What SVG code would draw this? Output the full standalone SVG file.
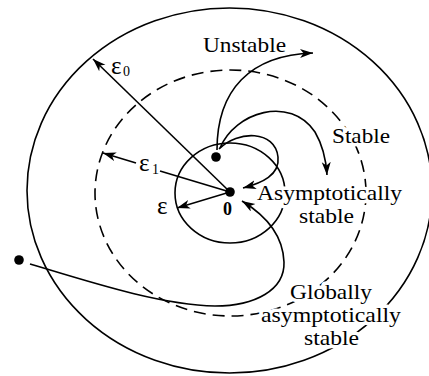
<svg xmlns="http://www.w3.org/2000/svg" width="429" height="376" viewBox="0 0 429 376">
<style>
.c{fill:none;stroke:#000;stroke-width:1.6}
.d{fill:none;stroke:#000;stroke-width:1.6;stroke-dasharray:12 7}
.t{fill:none;stroke:#000;stroke-width:1.6;marker-end:url(#ah)}
.lbl{font-family:"Liberation Serif","Times New Roman",serif;font-size:21px;fill:#000;stroke:#fff;stroke-width:7px;stroke-linejoin:round;paint-order:stroke}
.eps{font-family:"Liberation Serif","Times New Roman",serif;font-size:25px;fill:#000}
.sub{font-family:"Liberation Serif","Times New Roman",serif;font-size:14px;fill:#000}
.dot{fill:#000}
</style>
<defs>
<marker id="ah" markerUnits="userSpaceOnUse" markerWidth="14" markerHeight="10" refX="13" refY="4.5" orient="auto">
<path d="M0,0 L13,4.5 L0,9 L3.5,4.5 Z" fill="#000"/>
</marker>
</defs>
<rect width="429" height="376" fill="#fff"/>
<g id="regions">
<ellipse id="outer" class="c" cx="229.5" cy="190.5" rx="202.5" ry="182.5"/>
<ellipse id="dashed" class="d" cx="230.5" cy="193" rx="135.5" ry="123"/>
<ellipse id="inner" class="c" cx="230" cy="193" rx="55" ry="50"/>
</g>
<g id="connectors">
<line class="t" x1="230" y1="192" x2="93" y2="59"/>
<line class="t" x1="136" y1="163" x2="103" y2="153"/>
<line class="c" x1="160" y1="171" x2="230" y2="192"/>
<line class="t" x1="230" y1="192" x2="177" y2="208"/>
<path class="t" d="M217,150 C217,90 250,55 313,53"/>
<path class="t" d="M220,148 C235,112 290,95 315,132 C322,144 326,158 327,175"/>
<path class="t" d="M219,149 C238,130 275,130 278,157 C280,175 262,183 243,188"/>
<path class="t" d="M30,264 C90,282 160,305 215,306 C255,306 285,290 284,262 C283,235 265,215 242,201"/>
</g>
<g id="points">
<circle id="origin" class="dot" cx="230" cy="192" r="4.8"/>
<circle id="start-near" class="dot" cx="216" cy="157" r="4.8"/>
<circle id="start-far" class="dot" cx="19" cy="260" r="4.8"/>
</g>
<g id="labels">
<text class="lbl" x="203" y="52" textLength="83" lengthAdjust="spacingAndGlyphs">Unstable</text>
<text class="lbl" x="332" y="143" textLength="58" lengthAdjust="spacingAndGlyphs">Stable</text>
<text class="lbl" x="257" y="200" textLength="145" lengthAdjust="spacingAndGlyphs">Asymptotically</text>
<text class="lbl" x="299" y="223" textLength="55" lengthAdjust="spacingAndGlyphs">stable</text>
<text class="lbl" x="290" y="299" textLength="82" lengthAdjust="spacingAndGlyphs">Globally</text>
<text class="lbl" x="261" y="322" textLength="140" lengthAdjust="spacingAndGlyphs">asymptotically</text>
<text class="lbl" x="304" y="345" textLength="55" lengthAdjust="spacingAndGlyphs">stable</text>
<text class="lbl" x="223" y="215" style="font-weight:bold;font-size:18px">0</text>
<text class="eps" x="111" y="74">ε</text><text class="sub" x="123" y="76">0</text>
<text class="eps" x="139" y="171">ε</text><text class="sub" x="152" y="174">1</text>
<text class="eps" x="157" y="214">ε</text>
</g>
</svg>
